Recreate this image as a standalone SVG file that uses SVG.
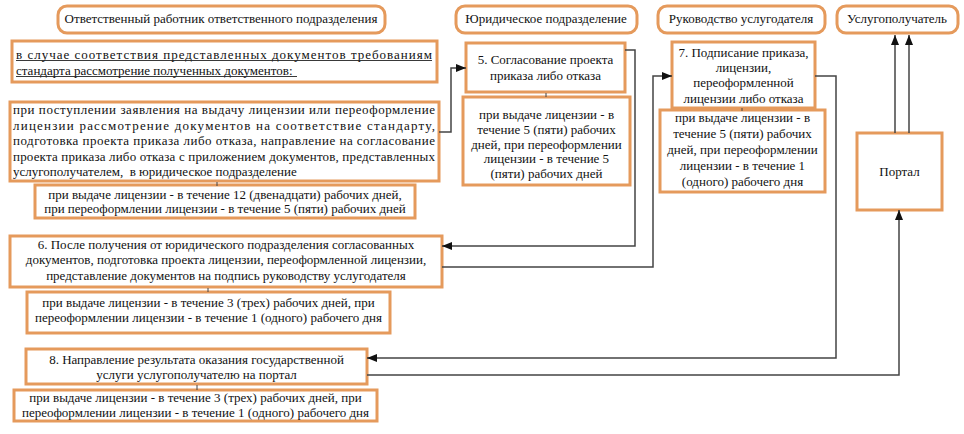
<svg xmlns="http://www.w3.org/2000/svg" width="964" height="434" viewBox="0 0 964 434" font-family="'Liberation Serif', 'Times New Roman', 'DejaVu Serif', serif">
<defs>
<style>
.hdr{fill:#fff;stroke:#E59A5C;stroke-width:3}
.box{fill:#fff;stroke:#E59A5C;stroke-width:3}
text{font-family:'Liberation Serif','Times New Roman','DejaVu Serif',serif;font-size:13px;fill:#111}
.c{text-anchor:middle}
.con{fill:none;stroke:#444;stroke-width:1.5}
.tick{stroke:#444;stroke-width:1}
.ul{stroke:#222;stroke-width:0.9}
</style>
<marker id="ah" viewBox="0 0 10 10" refX="10" refY="5" markerWidth="10" markerHeight="10" markerUnits="userSpaceOnUse" orient="auto">
<path d="M0,1 L10,5 L0,9 z" fill="#111"/>
</marker>
</defs>
<rect width="964" height="434" fill="#fff"/>

<g id="h1"><rect class="hdr" x="58" y="6" width="327" height="27" rx="9"/><text class="c" x="221" y="23">Ответственный работник ответственного подразделения</text></g>
<g id="h2"><rect class="hdr" x="456" y="6" width="181" height="27" rx="9"/><text class="c" x="546" y="23">Юридическое подразделение</text></g>
<g id="h3"><rect class="hdr" x="658" y="6" width="167" height="27" rx="9"/><text class="c" x="741" y="23">Руководство услугодателя</text></g>
<g id="h4"><rect class="hdr" x="837" y="6" width="121" height="27" rx="9"/><text class="c" x="897" y="23">Услугополучатель</text></g>

<g id="n0"><rect class="box" x="12" y="41" width="425" height="41"/>
<text x="16" y="58.5" textLength="416" lengthAdjust="spacing">в случае соответствия представленных документов требованиям</text>
<text x="16" y="74.5">стандарта рассмотрение полученных документов:</text>
<line class="ul" x1="16" y1="60.5" x2="432" y2="60.5"/>
<line class="ul" x1="16" y1="76.5" x2="297" y2="76.5"/></g>

<g id="n1"><rect class="box" x="10" y="102" width="429" height="79"/>
<text x="13" y="114" textLength="422" lengthAdjust="spacing">при поступлении заявления на выдачу лицензии или переоформление</text>
<text x="13" y="129.5" textLength="422" lengthAdjust="spacing">лицензии рассмотрение документов на соответствие стандарту,</text>
<text x="13" y="145" textLength="422" lengthAdjust="spacing">подготовка проекта приказа либо отказа, направление на согласование</text>
<text x="13" y="160.5" textLength="422" lengthAdjust="spacing">проекта приказа либо отказа с приложением документов, представленных</text>
<text x="13" y="176" xml:space="preserve">услугополучателем,  в юридическое подразделение</text></g>

<g id="t1"><rect class="box" x="35" y="185" width="380" height="33"/>
<text class="c" x="225" y="199">при выдаче лицензии - в течение 12 (двенадцати) рабочих дней,</text>
<text class="c" x="225" y="213">при переоформлении лицензии - в течение 5 (пяти) рабочих дней</text></g>

<g id="n5"><rect class="box" x="466" y="43" width="159" height="49"/>
<text class="c" x="545.5" y="63.5">5. Согласование проекта</text>
<text class="c" x="545.5" y="79.5">приказа либо отказа</text></g>

<g id="t5"><rect class="box" x="463" y="97" width="167" height="88"/>
<text class="c" x="546.5" y="118.5">при выдаче лицензии - в</text>
<text class="c" x="546.5" y="133.5">течение 5 (пяти) рабочих</text>
<text class="c" x="546.5" y="148.5">дней, при переоформлении</text>
<text class="c" x="546.5" y="163">лицензии - в течение 5</text>
<text class="c" x="546.5" y="177.5">(пяти) рабочих дней</text></g>

<g id="n7"><rect class="box" x="672" y="42" width="143" height="66"/>
<text class="c" x="743.5" y="56.5">7. Подписание приказа,</text>
<text class="c" x="743.5" y="72">лицензии,</text>
<text class="c" x="743.5" y="87">переоформленной</text>
<text class="c" x="743.5" y="102.5">лицензии либо отказа</text></g>

<g id="t7"><rect class="box" x="660" y="110" width="165" height="82"/>
<text class="c" x="742.5" y="121.5">при выдаче лицензии - в</text>
<text class="c" x="742.5" y="137.5">течение 5 (пяти) рабочих</text>
<text class="c" x="742.5" y="153.5">дней, при переоформлении</text>
<text class="c" x="742.5" y="169.5">лицензии - в течение 1</text>
<text class="c" x="742.5" y="185.5">(одного) рабочего дня</text></g>

<g id="portal"><rect class="box" x="857" y="133" width="85" height="77"/>
<text class="c" x="899.5" y="176">Портал</text></g>

<g id="n6"><rect class="box" x="10" y="236" width="432" height="51"/>
<text class="c" x="226" y="248.5">6. После получения от юридического подразделения согласованных</text>
<text class="c" x="226" y="264">документов, подготовка проекта лицензии, переоформленной лицензии,</text>
<text class="c" x="226" y="279.5">представление документов на подпись руководству услугодателя</text></g>

<g id="t6"><rect class="box" x="27" y="292" width="363" height="41"/>
<text class="c" x="208.5" y="307">при выдаче лицензии - в течение 3 (трех) рабочих дней, при</text>
<text class="c" x="208.5" y="322">переоформлении лицензии - в течение 1 (одного) рабочего дня</text></g>

<g id="n8"><rect class="box" x="26" y="349" width="341" height="35"/>
<text class="c" x="196.5" y="363.5">8. Направление результата оказания государственной</text>
<text class="c" x="196.5" y="378.5">услуги услугополучателю на портал</text></g>

<g id="t8"><rect class="box" x="14" y="390" width="363" height="31"/>
<text class="c" x="195.5" y="402">при выдаче лицензии - в течение 3 (трех) рабочих дней, при</text>
<text class="c" x="195.5" y="417">переоформлении лицензии - в течение 1 (одного) рабочего дня</text></g>

<g id="connectors">
<line class="tick" x1="217" y1="182" x2="217" y2="186"/>
<line class="tick" x1="208" y1="288" x2="208" y2="292"/>
<line class="tick" x1="197" y1="385" x2="197" y2="390"/>
<line class="tick" x1="546" y1="93" x2="546" y2="97"/>
<line class="tick" x1="742" y1="108" x2="742" y2="111"/>
<polyline class="con" points="439,132 451,132 451,68 466,68" marker-end="url(#ah)"/>
<polyline class="con" points="625,50 635,50 635,246 442,246" marker-end="url(#ah)"/>
<polyline class="con" points="442,267 653,267 653,76 672,76" marker-end="url(#ah)"/>
<polyline class="con" points="815,76 836,76 836,358 367,358" marker-end="url(#ah)"/>
<polyline class="con" points="367,375 899,375 899,210" marker-end="url(#ah)"/>
<line class="con" x1="895" y1="133" x2="895" y2="35" marker-end="url(#ah)"/>
<line class="con" x1="909" y1="133" x2="909" y2="35" marker-end="url(#ah)"/>
</g>
</svg>
